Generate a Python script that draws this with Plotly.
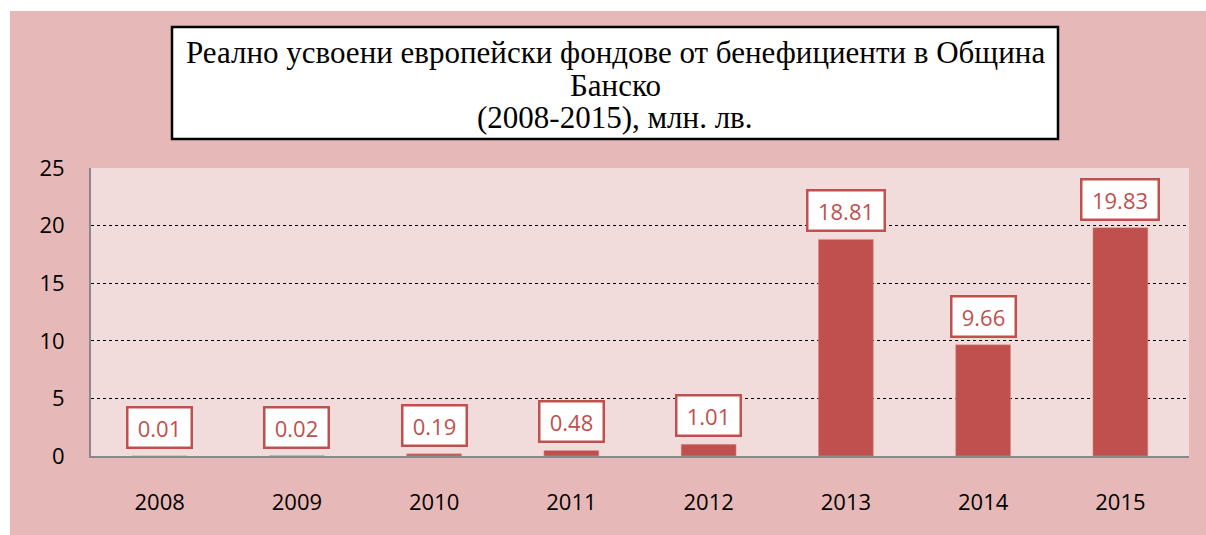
import plotly.graph_objects as go

years = ["2008", "2009", "2010", "2011", "2012", "2013", "2014", "2015"]
values = [0.01, 0.02, 0.19, 0.48, 1.01, 18.81, 9.66, 19.83]
labels = ["0.01", "0.02", "0.19", "0.48", "1.01", "18.81", "9.66", "19.83"]
title_lines = [
    "Реално усвоени европейски фондове от бенефициенти в Община",
    "Банско",
    "(2008-2015), млн. лв.",
]
y_ticks = [0, 5, 10, 15, 20, 25]

OFF = 0  # body margin removed by post_script
W, H = 1206, 535
L, T = 91 - OFF, 168 - OFF
R = W - (1189 - OFF)
B = H - (456 - OFF)
PW, PH = W - L - R, H - T - B


def px_x(px):
    return (px - OFF - L) / PW


def px_y(py):
    return (H - B - (py - OFF)) / PH


RED = "#C0504D"
PINK = "#E6B9B8"
xpos = list(range(len(years)))

fig = go.Figure()
fig.add_trace(go.Bar(x=xpos, y=values, width=0.4,
                     marker=dict(color=RED, line=dict(color="#D99694", width=0.5)),
                     hoverinfo="skip"))

shapes = [
    dict(type="rect", xref="paper", yref="paper", x0=px_x(-2), x1=px_x(10), y0=px_y(540), y1=px_y(-2),
         fillcolor="white", line=dict(width=0), layer="below"),
    dict(type="rect", xref="paper", yref="paper", x0=px_x(-2), x1=px_x(1210), y0=px_y(11), y1=px_y(-2),
         fillcolor="white", line=dict(width=0), layer="below"),
    dict(type="rect", xref="paper", yref="paper", x0=0, x1=1, y0=0, y1=1,
         fillcolor="#F2DCDB", line=dict(width=0), layer="below"),
    dict(type="rect", xref="paper", yref="paper", x0=px_x(172), x1=px_x(1058), y0=px_y(139), y1=px_y(27),
         fillcolor="white", line=dict(color="black", width=2.5), layer="above"),
]

annotations = []
for i, line in enumerate(title_lines):
    cy = [52, 85, 117][i]
    annotations.append(dict(xref="paper", yref="paper", x=px_x(615), y=px_y(cy), text=line,
                            showarrow=False, xanchor="center", yanchor="middle",
                            font=dict(family="Liberation Serif", size=31, color="black")))

for xi, v, lab in zip(xpos, values, labels):
    annotations.append(dict(x=xi, y=v, xref="x", yref="y", text=lab, showarrow=False,
                            xanchor="center", yanchor="bottom",
                            yshift=7, bgcolor="white", bordercolor=RED, borderwidth=2.5, borderpad=4,
                            width=13 * len(lab) + 2,
                            font=dict(family="Open Sans", size=22, color=RED)))

fig.update_layout(
    width=W, height=H,
    margin=dict(l=L, r=R, t=T, b=B, autoexpand=False),
    paper_bgcolor=PINK,
    plot_bgcolor="rgba(0,0,0,0)",
    showlegend=False,
    shapes=shapes,
    annotations=annotations,
    font=dict(family="Open Sans", size=22, color="black"),
)
fig.update_xaxes(range=[-0.5, 7.5], tickvals=xpos, ticktext=years, showline=True, linecolor="#898989",
                 linewidth=2, showgrid=False, zeroline=False, automargin=False,
                 ticks="", ticklabelstandoff=26, tickfont=dict(size=22, color="black"))
fig.update_yaxes(range=[0, 25.01], tickvals=y_ticks, showline=True, linecolor="#898989", linewidth=2,
                 showgrid=True, gridcolor="black", gridwidth=1.4, griddash="dot", zeroline=False,
                 automargin=False,
                 ticks="", ticklabelstandoff=20, tickfont=dict(size=22, color="black"))

fig.write_html("out.html", config={"displayModeBar": False},
               post_script="document.body.style.margin='0';document.body.style.overflow='hidden';")
